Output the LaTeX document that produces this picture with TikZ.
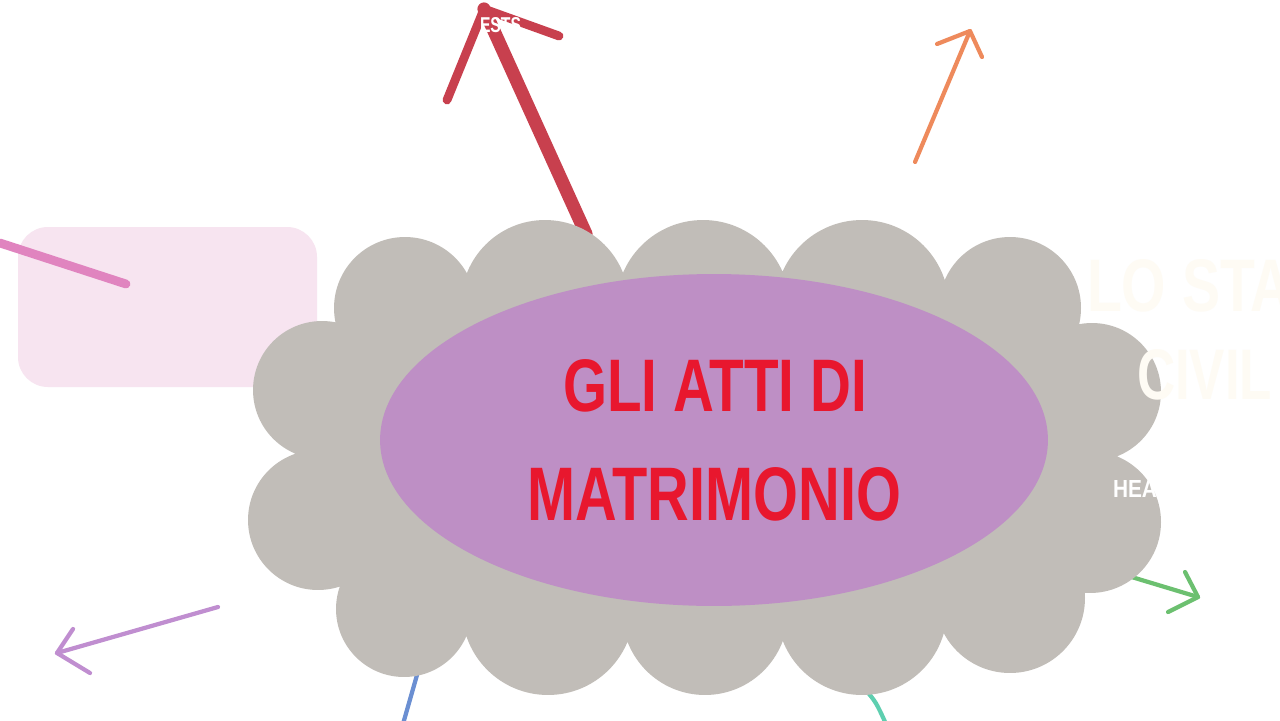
\documentclass[tikz,border=0pt]{standalone}
\usepackage{fontspec}
\setmainfont{Liberation Sans}
\usetikzlibrary{shapes.geometric}
\definecolor{cloudgray}{HTML}{C1BDB8}
\definecolor{ellpurple}{HTML}{BE8FC5}
\definecolor{titlered}{HTML}{E8172E}
\definecolor{arrowred}{HTML}{C8404E}
\definecolor{arroworange}{HTML}{EE8A5C}
\definecolor{arrowgreen}{HTML}{6CC070}
\definecolor{arrowpurple}{HTML}{C08ED0}
\definecolor{lineblue}{HTML}{6B8FD2}
\definecolor{lineteal}{HTML}{5ECFB0}
\definecolor{pinkbox}{HTML}{F7E4F0}
\definecolor{pinkstroke}{HTML}{E084BF}
\definecolor{cream}{HTML}{FEFBF4}
\tikzset{
  brush/.style={line cap=round, line join=round},
  cloudfill/.style={fill=cloudgray},
  textbox/.style={inner sep=0pt, outer sep=0pt}
}
\begin{document}
\begin{tikzpicture}[x=0.02cm,y=-0.02cm]
\useasboundingbox (0,0) rectangle (1280,720);
\clip (0,0) rectangle (1280,720);
\fill[white] (0,0) rectangle (1280,720);

% pink box and stroke
\fill[pinkbox, rounded corners=0.6cm] (18,227) rectangle (317,387);
\coordinate (pinkA) at (0,243);
\coordinate (pinkB) at (126,284);
\draw[brush, pinkstroke, line width=5pt] (pinkA) -- (pinkB);

% red arrow
\coordinate (redbase) at (586,234);
\coordinate (redtip) at (484,9);
\coordinate (redL) at (447,100);
\coordinate (redR) at (559,36);
\draw[brush, arrowred, line width=7.5pt] (redbase) -- (redtip);
\draw[brush, arrowred, line width=5pt] (redL) -- (redtip) -- (redR);

% orange arrow
\coordinate (orbase) at (915,162);
\coordinate (ortip) at (970,31);
\coordinate (orL) at (937,44);
\coordinate (orR) at (982,57);
\draw[brush, arroworange, line width=2.4pt] (orbase) -- (ortip);
\draw[brush, arroworange, line width=2.4pt] (orL) -- (ortip) -- (orR);

% green arrow
\coordinate (grbase) at (1125,575);
\coordinate (grtip) at (1198,597);
\coordinate (grU) at (1185,572);
\coordinate (grD) at (1168,612);
\draw[brush, arrowgreen, line width=2.4pt] (grbase) -- (grtip);
\draw[brush, arrowgreen, line width=2.4pt] (grU) -- (grtip) -- (grD);

% purple arrow
\coordinate (pubase) at (218,607);
\coordinate (putip) at (57,653);
\coordinate (puU) at (73,629);
\coordinate (puD) at (90,673);
\draw[brush, arrowpurple, line width=2.4pt] (pubase) -- (putip);
\draw[brush, arrowpurple, line width=2.4pt] (puU) -- (putip) -- (puD);

% blue and teal lines
\coordinate (blA) at (419,668);
\coordinate (blB) at (403,724);
\draw[brush, lineblue, line width=2.4pt] (blA) -- (blB);
\coordinate (teA) at (864,688);
\coordinate (teB) at (886,724);
\draw[brush, lineteal, line width=2.4pt] (teA) .. controls (876,702) .. (teB);

% cloud
\fill[cloudfill] (405,308)--(545,304)--(703,307)--(862,307)--(1010,308)--(1092,392)--(1090,522)--(1010,598)--(862,610)--(705,612)--(548,609)--(404,609)--(318,520)--(322,390)--cycle;
\fill[cloudfill]
  (405,308) circle[radius=1.42cm]
  (545,304) circle[radius=1.68cm]
  (703,307) circle[radius=1.74cm]
  (862,307) circle[radius=1.74cm]
  (1010,308) circle[radius=1.42cm]
  (1092,392) circle[radius=1.38cm]
  (1090,522) circle[radius=1.42cm]
  (1010,598) circle[radius=1.5cm]
  (862,610) circle[radius=1.7cm]
  (705,612) circle[radius=1.66cm]
  (548,609) circle[radius=1.72cm]
  (404,609) circle[radius=1.36cm]
  (318,520) circle[radius=1.4cm]
  (322,390) circle[radius=1.38cm];

% ellipse
\node[ellipse, fill=ellpurple, inner sep=0pt, minimum width=13.36cm, minimum height=6.64cm] (center) at (714,440) {};

% title
\node[textbox, text=titlered] (title1) at (715,386) {\resizebox{6.08cm}{1.04cm}{\bfseries GLI ATTI DI}};
\node[textbox, text=titlered] (title2) at (714,494.5) {\resizebox{7.48cm}{1.06cm}{\bfseries MATRIMONIO}};

% faint texts right
\node[textbox, text=cream, anchor=west] (lostato) at (1087,286) {\resizebox{4.1cm}{1.04cm}{\bfseries LO STA}};
\node[textbox, text=cream, anchor=west] (civile) at (1137,375) {\resizebox{2.7cm}{1.0cm}{\bfseries CIVIL}};
\node[textbox, text=white, anchor=west] (hea) at (1113,488.5) {\resizebox{0.88cm}{0.34cm}{\bfseries HEA}};
\node[textbox, text=white, anchor=west] (ests) at (480,25.5) {\resizebox{0.82cm}{0.3cm}{\bfseries ESTS}};
\end{tikzpicture}
\end{document}
